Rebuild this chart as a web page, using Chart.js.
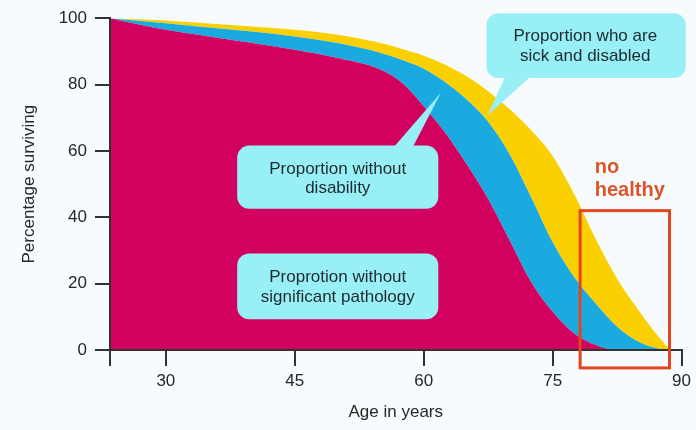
<!DOCTYPE html>
<html>
<head>
<meta charset="utf-8">
<script src="https://cdn.jsdelivr.net/npm/chart.js@4.4.1/dist/chart.umd.min.js"></script>
<style>
  html, body { margin: 0; padding: 0; background: #f7fbfd; }
  #wrap { width: 696px; height: 430px; }
</style>
</head>
<body>
<div id="wrap"><canvas id="survival" width="696" height="430"></canvas></div>
<script>
// ages
const ages = [23.5, 30, 35, 40, 45, 50, 55, 57.5, 60, 62.5, 65, 67.5, 70, 72.5, 75, 77.5, 80, 82.5, 85, 87.5, 89, 90];

// upper edge of each band (percentage surviving)
const noPathology  = [100, 96.5, 94.5, 92.5, 90.5, 88, 84.5, 80.5, 73.5, 65.5, 56, 45.5, 33, 20.5, 11.5, 5, 1.5, 0, 0, 0, 0, 0];
const noDisability = [100, 98.5, 97.2, 96, 94.5, 92.5, 89.5, 87.4, 84.8, 80.7, 75.5, 68.8, 59, 46, 32.5, 22, 14, 7, 2.5, 0.3, 0, 0];
const allSurviving = [100, 99.3, 98.4, 97.5, 96.5, 95, 92.5, 90.7, 88.7, 86, 82.5, 78, 72.6, 66.2, 58.5, 47, 33.5, 21.5, 12, 3.5, 0, 0];

const xTicks = [30, 45, 60, 75, 90];
const yTicks = [0, 20, 40, 60, 80, 100];

const inkColor = "#262626";
const axisColor = "#333333";

Chart.defaults.font.family = '"Liberation Sans", Arial, sans-serif';
Chart.defaults.font.size = 17;
Chart.defaults.color = inkColor;

function toPoints(values) {
  return ages.map((a, i) => ({ x: a, y: values[i] }));
}

function roundBox(ctx, x0, y0, x1, y1, r) {
  ctx.beginPath();
  ctx.moveTo(x0 + r, y0);
  ctx.arcTo(x1, y0, x1, y1, r);
  ctx.arcTo(x1, y1, x0, y1, r);
  ctx.arcTo(x0, y1, x0, y0, r);
  ctx.arcTo(x0, y0, x1, y0, r);
  ctx.closePath();
}

// callouts, red box and note, placed in axis units
const notes = {
  id: "notes",
  afterDraw(chart) {
    const { ctx } = chart;
    const sx = chart.scales.x, sy = chart.scales.y;
    const px = (v) => sx.getPixelForValue(v);
    const py = (v) => sy.getPixelForValue(v);
    const fillCol = "#98eff6";

    ctx.save();

    // sick and disabled
    ctx.fillStyle = fillCol;
    roundBox(ctx, px(67.3), py(101.5), px(90.5), py(82), 12);
    ctx.fill();
    ctx.beginPath();
    ctx.moveTo(px(69.6), py(83));
    ctx.lineTo(px(72.7), py(83));
    ctx.lineTo(px(67.4), py(70.6));
    ctx.closePath();
    ctx.fill();

    // without disability
    roundBox(ctx, px(38.3), py(61.6), px(61.7), py(42.6), 12);
    ctx.fill();
    ctx.beginPath();
    ctx.moveTo(px(56.3), py(60.5));
    ctx.lineTo(px(58.6), py(60.5));
    ctx.lineTo(px(62), py(77.5));
    ctx.closePath();
    ctx.fill();

    // without pathology
    roundBox(ctx, px(38.3), py(29.1), px(61.7), py(9.3), 12);
    ctx.fill();

    ctx.fillStyle = "#1c2a2e";
    ctx.font = '17px "Liberation Sans", Arial, sans-serif';
    ctx.textAlign = "center";
    ctx.textBaseline = "middle";
    ctx.fillText("Proportion who are", px(78.8), py(94.6));
    ctx.fillText("sick and disabled", px(78.8), py(88.6));
    ctx.fillText("Proportion without", px(50), py(54.4));
    ctx.fillText("disability", px(50), py(48.6));
    ctx.fillText("Proprotion without", px(50), py(21.9));
    ctx.fillText("significant pathology", px(50), py(15.9));

    // no healthy box
    ctx.strokeStyle = "#e2461e";
    ctx.lineWidth = 3;
    ctx.strokeRect(px(78.2), py(42), px(88.6) - px(78.2), py(-5.4) - py(42));

    ctx.fillStyle = "#dd5428";
    ctx.font = 'bold 20px "Liberation Sans", Arial, sans-serif';
    ctx.textAlign = "left";
    ctx.fillText("no", px(79.9), py(55));
    ctx.fillText("healthy", px(79.9), py(48));

    ctx.restore();
  }
};

const survival = document.getElementById("survival").getContext("2d");

new Chart(survival, {
  type: "line",
  data: {
    datasets: [
      {
        label: "Proportion without significant pathology",
        data: toPoints(noPathology),
        backgroundColor: "#d2005e",
        borderWidth: 0,
        pointRadius: 0,
        cubicInterpolationMode: "monotone",
        fill: "origin"
      },
      {
        label: "Proportion without disability",
        data: toPoints(noDisability),
        backgroundColor: "#1aaae0",
        borderWidth: 0,
        pointRadius: 0,
        cubicInterpolationMode: "monotone",
        fill: "-1"
      },
      {
        label: "Proportion who are sick and disabled",
        data: toPoints(allSurviving),
        backgroundColor: "#fad000",
        borderWidth: 0,
        pointRadius: 0,
        cubicInterpolationMode: "monotone",
        fill: "-1"
      }
    ]
  },
  options: {
    responsive: false,
    animation: false,
    layout: { padding: { top: 17, right: 12, left: 0, bottom: 0 } },
    plugins: {
      legend: { display: false },
      tooltip: { enabled: false }
    },
    scales: {
      x: {
        type: "linear",
        min: 23.5,
        max: 90,
        afterBuildTicks: (scale) => {
          scale.ticks = [23.5].concat(xTicks).map((v) => ({ value: v }));
        },
        afterFit: (scale) => { scale.height = 80; },
        ticks: {
          callback: (value) => xTicks.includes(value) ? value : "",
          padding: 5,
          maxRotation: 0,
          autoSkip: false
        },
        grid: { drawOnChartArea: false, drawTicks: true, tickLength: 16, color: axisColor, lineWidth: 2 },
        border: { display: true, color: axisColor, width: 2, z: 1 },
        title: { display: true, text: "Age in years", padding: { top: 0, bottom: 7 } }
      },
      y: {
        min: 0,
        max: 100,
        afterBuildTicks: (scale) => {
          scale.ticks = yTicks.map((v) => ({ value: v }));
        },
        afterFit: (scale) => { scale.width = 110; },
        ticks: { padding: 8 },
        grid: { drawOnChartArea: false, drawTicks: true, tickLength: 15, color: axisColor, lineWidth: 2 },
        border: { display: true, color: axisColor, width: 2, z: 1 },
        title: { display: true, text: "Percentage surviving", padding: { top: 19, bottom: 0 } }
      }
    }
  },
  plugins: [notes]
});
</script>
</body>
</html>
